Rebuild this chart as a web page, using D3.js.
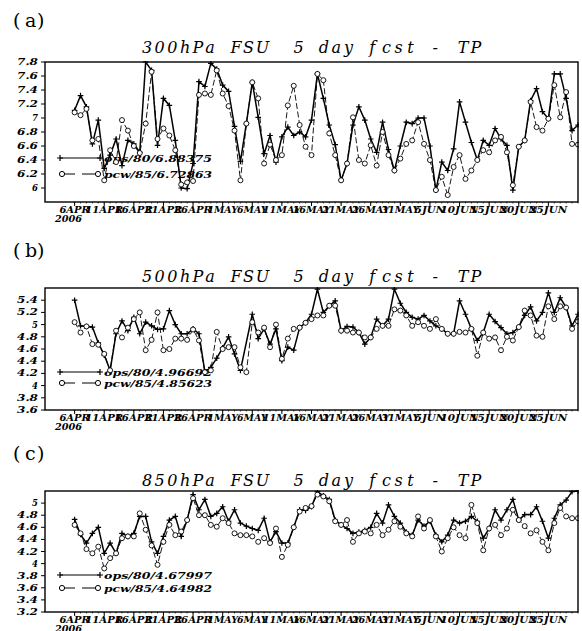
<!DOCTYPE html>
<html>
<head>
<meta charset="utf-8">
<script src="https://cdn.jsdelivr.net/npm/d3@7"></script>
<style>
  body { margin: 0; background: #fff; }
  text { white-space: pre; }
</style>
</head>
<body>
<div id="chart"></div>
<script>
// Daily values, 6 APR .. 30 JUN 2006 (null = missing day)
const opsA = [7.11,7.32,7.16,6.63,6.97,6.28,6.47,6.70,6.32,6.68, 6.63,6.51,7.80,7.68,6.61,7.28,7.18,6.68,6.00,5.99,
  6.35,7.52,7.45,7.78,7.70,7.47,7.38,6.88,6.38,6.92, 7.51,7.01,6.49,6.75,6.37,6.73,6.87,6.75,6.80,6.73,
  6.97,7.63,7.28,6.90,6.62,6.11,6.35,6.90,7.16,6.97, 6.70,6.51,6.94,6.55,6.25,6.60,6.94,6.92,7.00,7.00,
  6.60,5.97,6.37,6.25,6.56,7.23,6.94,6.65,6.40,6.68, 6.61,6.85,6.70,6.61,5.97,6.59,6.68,7.25,7.42,7.09,
  6.99,7.63,7.63,7.28,6.82,6.90];
const pcwA = [7.08,7.04,7.13,6.68,6.70,6.11,6.54,6.37,6.97,6.82, 6.60,6.50,6.92,7.66,6.70,6.85,6.75,6.54,6.05,6.08,
  6.10,7.33,7.35,7.33,7.68,7.35,7.17,6.82,6.11,6.92, 7.51,7.28,6.35,6.62,6.40,6.47,7.18,7.46,6.90,6.59,
  6.47,7.63,7.54,6.78,6.47,6.11,6.35,7.01,6.40,6.35, 6.61,6.32,6.80,6.47,6.25,6.42,6.63,6.68,6.94,6.63,
  6.40,5.97,6.16,5.90,6.30,6.47,6.13,6.25,6.40,6.54, 6.51,6.68,6.73,6.51,6.04,6.59,6.68,7.23,6.87,6.82,
  6.99,7.47,7.01,7.37,6.63,6.62];

const opsB = [5.40,4.98,4.97,4.96,4.70,4.50,4.25,4.85,5.06,4.90, 5.12,4.85,5.04,4.98,4.92,4.93,5.23,5.00,4.85,4.85,
  4.93,4.85,4.22,4.30,4.45,4.62,4.80,4.52,4.25,null, 5.17,4.77,4.93,4.68,4.93,4.41,4.63,4.58,4.95,5.03,
  5.17,5.58,5.20,5.31,5.39,4.90,4.97,4.96,4.87,4.68, 4.79,5.09,4.98,5.09,5.58,5.35,5.20,5.12,5.09,5.15,
  5.06,4.98,4.93,4.85,4.85,5.39,5.17,4.93,4.74,4.87, 5.17,5.05,4.95,4.85,4.87,4.96,5.15,5.29,5.06,5.20,
  5.52,5.20,5.44,5.28,4.98,5.17];
const pcwB = [5.04,4.87,4.97,4.68,4.67,4.52,4.25,4.90,4.79,4.95, 5.09,5.20,4.58,4.75,5.20,4.58,4.60,4.77,4.77,4.75,
  4.92,4.74,4.22,4.25,4.88,4.60,4.63,4.63,4.30,4.22, 5.04,4.87,4.95,4.63,5.00,4.44,4.77,4.93,4.95,5.03,
  5.09,5.15,5.15,5.31,5.31,4.90,4.90,4.87,4.87,4.79, 4.79,4.93,4.98,4.98,5.25,5.23,5.15,4.98,5.04,4.98,
  4.93,5.09,4.93,4.85,4.85,4.88,4.87,4.93,4.49,4.87, 4.77,4.79,4.58,4.80,4.74,4.96,5.23,5.15,4.82,4.80,
  5.30,5.09,5.30,5.28,4.93,5.05];

const opsC = [4.73,4.48,4.34,4.50,4.60,4.17,4.34,4.17,4.50,4.45, 4.50,4.78,4.78,4.36,4.17,4.45,4.72,4.78,4.45,4.72,
  5.14,4.89,5.06,4.78,4.83,4.94,4.70,4.89,4.67,4.62, 4.58,4.55,4.75,4.36,4.53,4.34,4.34,4.60,4.89,4.88,
  4.94,5.19,5.12,5.06,4.72,4.64,4.58,4.50,4.52,4.55, 4.60,4.83,4.67,4.97,4.78,4.67,4.52,4.47,4.72,4.62,
  4.70,4.47,4.36,4.47,4.72,4.67,4.70,4.78,4.70,4.42, 4.58,4.89,4.72,4.89,5.06,4.72,4.81,4.81,4.94,4.70,
  4.42,4.75,4.97,5.05,5.19,5.20];
const pcwC = [4.64,4.50,4.24,4.17,4.28,3.92,4.09,4.17,4.42,4.45, 4.45,4.83,4.56,4.30,3.98,4.36,4.64,4.47,4.53,4.72,
  5.08,4.80,4.80,4.64,4.61,4.75,4.67,4.50,4.47,4.47, 4.45,4.36,4.42,4.34,4.58,4.11,4.31,4.60,4.86,4.92,
  4.95,5.14,5.11,5.03,4.70,4.64,4.72,4.36,4.50,4.53, 4.50,4.64,4.47,4.56,4.70,4.61,4.50,4.45,4.78,4.58,
  4.72,4.45,4.20,4.42,4.60,4.47,4.42,4.97,4.67,4.22, 4.58,4.64,4.47,4.58,4.89,4.72,4.62,4.50,4.55,4.36,
  4.22,4.67,4.92,4.78,4.75,4.75];

// Axis ticks and labels
const tickLabels = ["6APR","11APR","16APR","21APR","26APR","1MAY","6MAY","11MAY","16MAY",
  "21MAY","26MAY","31MAY","5JUN","10JUN","15JUN","20JUN","25JUN"];
const yTicksA = [6, 6.2, 6.4, 6.6, 6.8, 7, 7.2, 7.4, 7.6, 7.8];
const yTicksB = [3.6, 3.8, 4, 4.2, 4.4, 4.6, 4.8, 5, 5.2, 5.4];
const yTicksC = [3.2, 3.4, 3.6, 3.8, 4, 4.2, 4.4, 4.6, 4.8, 5];

const titles = ["300hPa FSU  5 day fcst - TP", "500hPa FSU  5 day fcst - TP", "850hPa FSU  5 day fcst - TP"];
const panelLetters = ["(a)", "(b)", "(c)"];
const legendA = ["ops/80/6.88375", "pcw/85/6.72863"];
const legendB = ["ops/80/4.96692", "pcw/85/4.85623"];
const legendC = ["ops/80/4.67997", "pcw/85/4.64982"];

const width = 582;
const height = 631;

const svg = d3.select("#chart")
    .append("svg")
    .attr("width", width)
    .attr("height", height);

const days = d3.utcDay.range(new Date(Date.UTC(2006, 3, 6)), new Date(Date.UTC(2006, 6, 1)));
const tickDates = d3.utcDay.range(new Date(Date.UTC(2006, 3, 6)), new Date(Date.UTC(2006, 5, 26)), 5);

const x = d3.scaleUtc()
    .domain([new Date(Date.UTC(2006, 3, 1)), new Date(Date.UTC(2006, 5, 30))])
    .range([45, 578]);

const panels = [
    { letter: panelLetters[0], letterY: 27, title: titles[0], titleY: 53, top: 62, bottom: 202,
      domain: [5.8, 7.8], ticks: yTicksA, ops: opsA, pcw: pcwA, legend: legendA, legY: [158, 174] },
    { letter: panelLetters[1], letterY: 257, title: titles[1], titleY: 282, top: 288, bottom: 410,
      domain: [3.6, 5.6], ticks: yTicksB, ops: opsB, pcw: pcwB, legend: legendB, legY: [372, 383] },
    { letter: panelLetters[2], letterY: 460, title: titles[2], titleY: 486, top: 491, bottom: 612,
      domain: [3.2, 5.2], ticks: yTicksC, ops: opsC, pcw: pcwC, legend: legendC, legY: [575, 588] }
];

const labelFont = "'DejaVu Serif', serif";

function crossPath(cx, cy, s) {
    return `M${cx - s},${cy}H${cx + s}M${cx},${cy - s}V${cy + s}`;
}

// x positions for a fixed-pitch string
function pitch(str, x0, step) {
    return str.split("").map((c, k) => (x0 + k * step).toFixed(1)).join(" ");
}

function drawPanel(p, i) {
    const g = svg.append("g");
    const y = d3.scaleLinear().domain(p.domain).range([p.bottom, p.top]);

    // panel letter and title
    g.append("text")
        .attr("x", pitch(p.letter, 13, 12)).attr("y", p.letterY)
        .attr("font-family", labelFont).attr("font-size", 19)
        .text(p.letter);

    g.append("text")
        .attr("x", pitch(p.title, 142, 12.63)).attr("y", p.titleY)
        .attr("font-family", labelFont).attr("font-style", "italic").attr("font-size", 16)
        .text(p.title);

    // y ticks
    p.ticks.forEach(t => {
        g.append("line")
            .attr("x1", 41).attr("x2", 45)
            .attr("y1", y(t)).attr("y2", y(t))
            .attr("stroke", "#000").attr("stroke-width", 1);
        const s = String(+t.toFixed(1));
        const lab = g.append("text")
            .attr("x", 38).attr("y", y(t) + 3)
            .attr("text-anchor", "end")
            .attr("font-family", labelFont).attr("font-style", "italic").attr("font-weight", "bold")
            .attr("font-size", 8.5)
            .text(s);
        if (s.length > 1) lab.attr("textLength", s.length * 7.3 - 1).attr("lengthAdjust", "spacingAndGlyphs");
    });

    // x ticks and labels
    days.forEach(d => {
        g.append("line")
            .attr("x1", x(d)).attr("x2", x(d))
            .attr("y1", p.bottom).attr("y2", p.bottom + 1.5)
            .attr("stroke", "#000").attr("stroke-width", 0.7);
    });
    tickDates.forEach((d, k) => {
        g.append("line")
            .attr("x1", x(d)).attr("x2", x(d))
            .attr("y1", p.bottom).attr("y2", p.bottom + 4)
            .attr("stroke", "#000").attr("stroke-width", 1);
        const s = tickLabels[k];
        g.append("text")
            .attr("x", x(d)).attr("y", p.bottom + 11)
            .attr("text-anchor", "middle")
            .attr("font-family", labelFont).attr("font-style", "italic").attr("font-weight", "bold")
            .attr("font-size", 9)
            .attr("textLength", s.length * 7.6).attr("lengthAdjust", "spacingAndGlyphs")
            .text(s);
    });
    g.append("text")
        .attr("x", 55).attr("y", p.bottom + 20)
        .attr("font-family", labelFont).attr("font-style", "italic").attr("font-weight", "bold")
        .attr("font-size", 9)
        .attr("textLength", 27).attr("lengthAdjust", "spacingAndGlyphs")
        .text("2006");

    // legend
    const lx1 = 60, lx2 = 100;
    g.append("line")
        .attr("x1", lx1).attr("x2", lx2).attr("y1", p.legY[0]).attr("y2", p.legY[0])
        .attr("stroke", "#000").attr("stroke-width", 1.2);
    [lx1, lx2].forEach(cx => g.append("path").attr("d", crossPath(cx, p.legY[0], 3))
        .attr("stroke", "#000").attr("stroke-width", 1.2));
    g.append("line")
        .attr("x1", lx1 + 2).attr("x2", lx2 - 2).attr("y1", p.legY[1]).attr("y2", p.legY[1])
        .attr("stroke", "#000").attr("stroke-width", 1).attr("stroke-dasharray", "13,7");
    [lx1 + 2, lx2 - 2].forEach(cx => g.append("circle").attr("cx", cx).attr("cy", p.legY[1]).attr("r", 2.6)
        .attr("fill", "#fff").attr("stroke", "#000").attr("stroke-width", 1));
    p.legend.forEach((s, k) => {
        g.append("text")
            .attr("x", 104).attr("y", p.legY[k] + 3.5)
            .attr("font-family", labelFont).attr("font-style", "italic").attr("font-weight", "bold")
            .attr("font-size", 9)
            .attr("textLength", 108).attr("lengthAdjust", "spacingAndGlyphs")
            .text(s);
    });

    // series
    const clipId = "clip" + i;
    svg.append("clipPath").attr("id", clipId)
        .append("rect")
        .attr("x", 45).attr("y", p.top - 1)
        .attr("width", 534).attr("height", p.bottom - p.top + 2);

    const plot = g.append("g").attr("clip-path", `url(#${clipId})`);
    const pts = arr => arr.map((v, k) => ({ d: days[k], v })).filter(o => o.v !== null);
    const line = d3.line().x(o => x(o.d)).y(o => y(o.v));

    const pcwPts = pts(p.pcw);
    const opsPts = pts(p.ops);

    plot.append("path")
        .attr("d", line(pcwPts))
        .attr("fill", "none").attr("stroke", "#000").attr("stroke-width", 0.9)
        .attr("stroke-dasharray", "6,2.5");
    plot.append("path")
        .attr("d", line(opsPts))
        .attr("fill", "none").attr("stroke", "#000").attr("stroke-width", 1.5);

    plot.selectAll(".ops" + i)
        .data(opsPts)
        .enter()
        .append("path")
        .attr("d", o => crossPath(x(o.d), y(o.v), 2.8))
        .attr("stroke", "#000").attr("stroke-width", 1.2);

    plot.selectAll(".pcw" + i)
        .data(pcwPts)
        .enter()
        .append("circle")
        .attr("cx", o => x(o.d)).attr("cy", o => y(o.v)).attr("r", 2.5)
        .attr("fill", "#fff").attr("stroke", "#000").attr("stroke-width", 0.9);

    // frame
    g.append("rect")
        .attr("x", 45).attr("y", p.top)
        .attr("width", 533).attr("height", p.bottom - p.top)
        .attr("fill", "none").attr("stroke", "#000").attr("stroke-width", 1.4);
}

panels.forEach(drawPanel);
</script>
</body>
</html>
